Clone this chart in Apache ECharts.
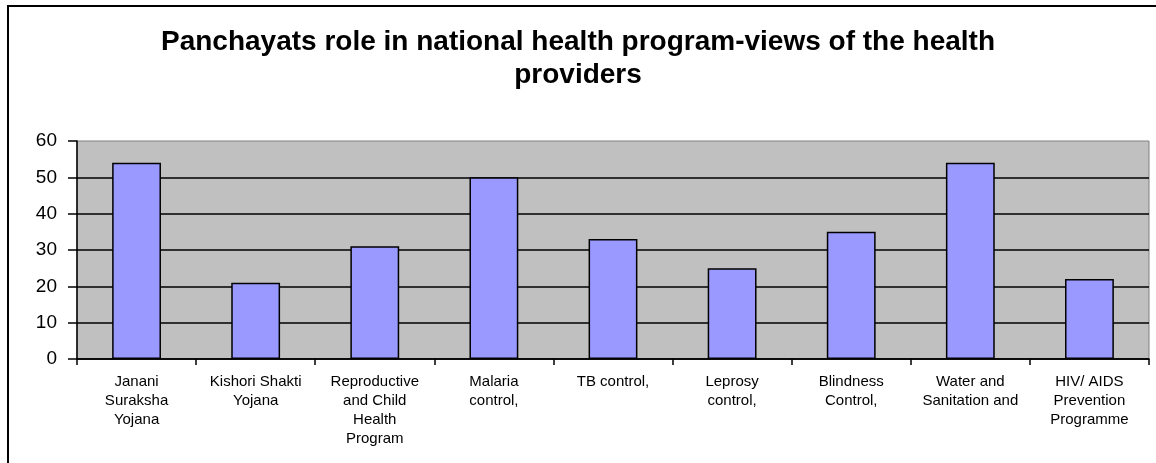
<!DOCTYPE html>
<html>
<head>
<meta charset="utf-8">
<script src="https://cdn.jsdelivr.net/npm/echarts@6/dist/echarts.min.js"></script>
<style>
  html, body { margin: 0; padding: 0; background: #fff; }
  #chart { width: 1156px; height: 463px; }
</style>
</head>
<body>
<div id="chart"></div>
<script>
// Programmes and the number of health providers who saw a role for Panchayats
const titleText = 'Panchayats role in national health program-views of the health\nproviders';
const programmes = [
  'Janani\nSuraksha\nYojana',
  'Kishori Shakti\nYojana',
  'Reproductive\nand Child\nHealth\nProgram',
  'Malaria\ncontrol,',
  'TB control,',
  'Leprosy\ncontrol,',
  'Blindness\nControl,',
  'Water and\nSanitation and',
  'HIV/ AIDS\nPrevention\nProgramme'
];
const responses = [54, 21, 31, 50, 33, 25, 35, 54, 22];
const yTicks = { min: 0, max: 60, interval: 10 };

const chart = echarts.init(document.getElementById('chart'), null, { renderer: 'canvas' });

chart.setOption({
  backgroundColor: '#ffffff',
  animation: false,
  textStyle: { fontFamily: 'Liberation Sans, Arial, sans-serif' },
  graphic: [
    {
      // outer frame of the chart area
      type: 'rect',
      shape: { x: 8, y: 6, width: 1170, height: 480 },
      style: { fill: 'none', stroke: '#000', lineWidth: 2 },
      silent: true,
      z: 100
    }
  ],
  title: {
    text: titleText,
    left: 'center',
    top: 21,
    textStyle: {
      fontFamily: 'Liberation Sans, Arial, sans-serif',
      fontWeight: 'bold',
      fontSize: 28,
      lineHeight: 33,
      color: '#000'
    }
  },
  grid: {
    left: 77,
    right: 7,
    top: 141,
    height: 218,
    show: true,
    backgroundColor: '#C0C0C0',
    borderColor: '#808080',
    borderWidth: 1
  },
  xAxis: {
    type: 'category',
    data: programmes,
    axisLine: { show: true, lineStyle: { color: '#000', width: 1.5 } },
    axisTick: { show: true, length: 6, lineStyle: { color: '#000', width: 1.5 } },
    axisLabel: {
      interval: 0,
      margin: 13,
      fontSize: 15,
      lineHeight: 19,
      color: '#000',
      fontFamily: 'Liberation Sans, Arial, sans-serif'
    },
    splitLine: { show: false }
  },
  yAxis: {
    type: 'value',
    min: yTicks.min,
    max: yTicks.max,
    interval: yTicks.interval,
    axisLine: { show: true, lineStyle: { color: '#000', width: 1.5 } },
    axisTick: { show: true, length: 9, lineStyle: { color: '#000', width: 1.5 } },
    axisLabel: {
      margin: 20,
      fontSize: 19,
      color: '#000',
      fontFamily: 'Liberation Sans, Arial, sans-serif'
    },
    splitLine: {
      show: true,
      showMaxLine: false,
      lineStyle: { color: '#000', width: 1.5 }
    }
  },
  series: [
    {
      type: 'bar',
      data: responses,
      barWidth: '41%',
      itemStyle: { color: '#9999FF', borderColor: '#000', borderWidth: 1.5 }
    }
  ]
});
</script>
</body>
</html>
